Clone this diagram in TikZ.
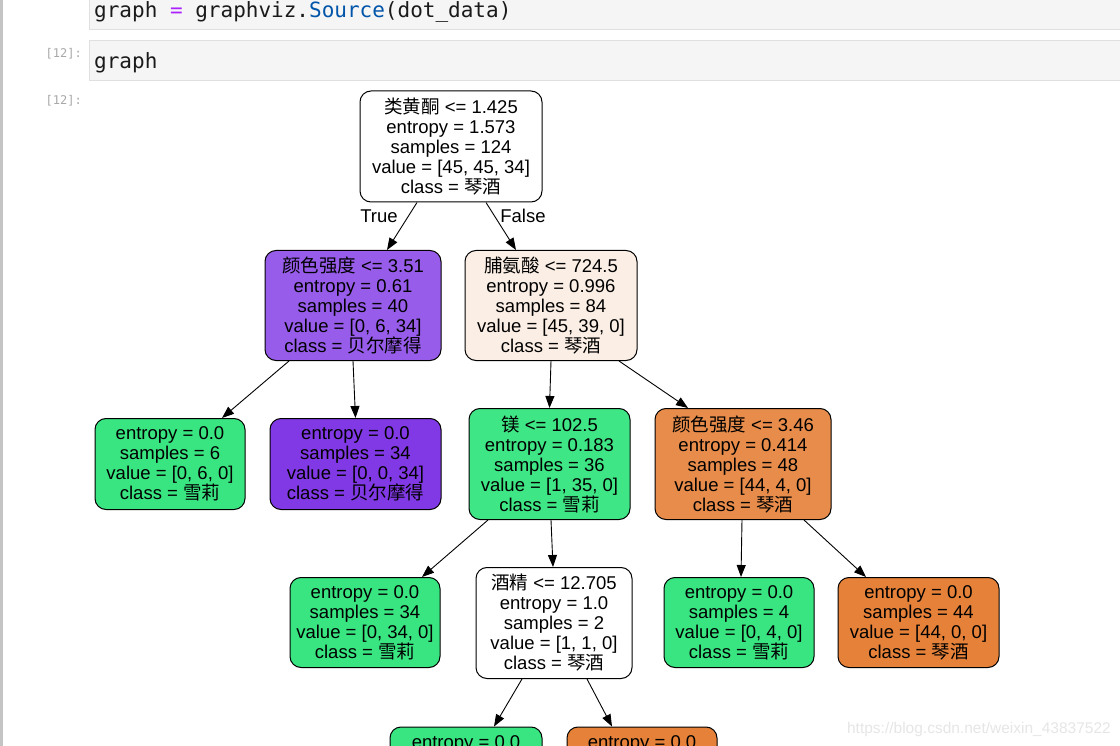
\documentclass[tikz,border=0pt]{standalone}
\usepackage{fontspec}
\setmainfont{Liberation Sans}
\newfontfamily\cjk{Noto Sans CJK SC}
\newfontfamily\codefont{DejaVu Sans Mono}
\usetikzlibrary{arrows.meta}
\definecolor{cellbg}{HTML}{F5F5F5}
\definecolor{cellborder}{HTML}{E0E0E0}
\definecolor{leftbar}{HTML}{C4C4C4}
\definecolor{promptgray}{HTML}{A8A8A8}
\definecolor{kwpurple}{HTML}{AA22FF}
\definecolor{kwblue}{HTML}{0055AA}
\definecolor{codetext}{HTML}{1A1A1A}
\definecolor{wmgray}{HTML}{E6E6E6}
\definecolor{cwhite}{HTML}{FFFFFF}
\definecolor{cpurpleA}{HTML}{975CEA}
\definecolor{cpurple}{HTML}{8139E5}
\definecolor{cpeach}{HTML}{FBEEE4}
\definecolor{cgreen}{HTML}{39E581}
\definecolor{cgreenA}{HTML}{3FE685}
\definecolor{corangeA}{HTML}{E78C4B}
\definecolor{corange}{HTML}{E58139}
\tikzset{
  tnode/.style={draw=black, line width=1pt, rounded corners=11pt, align=center,
    inner sep=0pt, font=\fontsize{18.5}{20}\selectfont},
  wh/.style 2 args={minimum width=#1pt, minimum height=#2pt},
  conn/.style={-{Triangle[length=12pt,width=9pt]}, line width=0.9pt},
  elabel/.style={inner sep=0pt, font=\fontsize{18.5}{20}\selectfont},
  codestyle/.style={inner sep=0pt, text=codetext, font=\codefont\fontsize{21}{22}\selectfont},
  promptstyle/.style={inner sep=0pt, text=promptgray, font=\codefont\fontsize{12}{12}\selectfont},
}
\begin{document}
\begin{tikzpicture}[x=1pt,y=-1pt]
\useasboundingbox (0,0) rectangle (1120,746);
\clip (0,0) rectangle (1120,746);
\fill[white] (0,0) rectangle (1120,746);
% notebook chrome
\fill[leftbar] (0,0) rectangle (3,746);
\draw[cellborder, fill=cellbg, line width=1pt] (89,-5) rectangle (1125,30);
\draw[cellborder, fill=cellbg, line width=1pt] (89,41) rectangle (1125,81);
\node[codestyle, anchor=base west] (code1) at (94,18) {graph \textcolor{kwpurple}{=} graphviz.\textcolor{kwblue}{Source}(dot\_data)};
\node[codestyle, anchor=base west] (code2) at (94,69) {graph};
\node[promptstyle, anchor=base east] (p1) at (82,58) {[12]:};
\node[promptstyle, anchor=base east] (p2) at (82,105) {[12]:};
% tree nodes
\node[tnode, fill=cwhite, wh={182}{111}] (root) at (451,146.5)
  {{\cjk 类黄酮} <= 1.425\\entropy = 1.573\\samples = 124\\value = [45, 45, 34]\\class = {\cjk 琴酒}};
\node[tnode, fill=cpurpleA, wh={176}{110}] (n1) at (353,305.5)
  {{\cjk 颜色强度} <= 3.51\\entropy = 0.61\\samples = 40\\value = [0, 6, 34]\\class = {\cjk 贝尔摩得}};
\node[tnode, fill=cpeach, wh={172}{110}] (n2) at (551,305.5)
  {{\cjk 脯氨酸} <= 724.5\\entropy = 0.996\\samples = 84\\value = [45, 39, 0]\\class = {\cjk 琴酒}};
\node[tnode, fill=cgreen, wh={150}{91}] (n3) at (170,464)
  {entropy = 0.0\\samples = 6\\value = [0, 6, 0]\\class = {\cjk 雪莉}};
\node[tnode, fill=cpurple, wh={171}{91}] (n4) at (355.5,464)
  {entropy = 0.0\\samples = 34\\value = [0, 0, 34]\\class = {\cjk 贝尔摩得}};
\node[tnode, fill=cgreenA, wh={161}{111}] (n5) at (549.5,464)
  {{\cjk 镁} <= 102.5\\entropy = 0.183\\samples = 36\\value = [1, 35, 0]\\class = {\cjk 雪莉}};
\node[tnode, fill=corangeA, wh={176}{111}] (n6) at (743,464)
  {{\cjk 颜色强度} <= 3.46\\entropy = 0.414\\samples = 48\\value = [44, 4, 0]\\class = {\cjk 琴酒}};
\node[tnode, fill=cgreen, wh={150}{90}] (n7) at (365,622.5)
  {entropy = 0.0\\samples = 34\\value = [0, 34, 0]\\class = {\cjk 雪莉}};
\node[tnode, fill=cwhite, wh={156}{111}] (n8) at (554,623)
  {{\cjk 酒精} <= 12.705\\entropy = 1.0\\samples = 2\\value = [1, 1, 0]\\class = {\cjk 琴酒}};
\node[tnode, fill=cgreen, wh={150}{90}] (n9) at (739,622.5)
  {entropy = 0.0\\samples = 4\\value = [0, 4, 0]\\class = {\cjk 雪莉}};
\node[tnode, fill=corange, wh={161}{90}] (n10) at (918.5,622.5)
  {entropy = 0.0\\samples = 44\\value = [44, 0, 0]\\class = {\cjk 琴酒}};
\node[tnode, fill=cgreen, wh={152}{90}] (n11) at (466,772)
  {entropy = 0.0\\~\\~\\~};
\node[tnode, fill=corange, wh={150}{90}] (n12) at (642,772)
  {entropy = 0.0\\~\\~\\~};
% edges
\draw[conn] ([xshift=-34pt]root.south) -- ([xshift=34pt]n1.north);
\draw[conn] ([xshift=35pt]root.south) -- ([xshift=-35pt]n2.north);
\draw[conn] ([xshift=-64pt]n1.south) -- ([xshift=52pt]n3.north);
\draw[conn] (n1.south) -- (n4.north);
\draw[conn] (n2.south) -- (n5.north);
\draw[conn] ([xshift=68pt]n2.south) -- ([xshift=-55pt]n6.north);
\draw[conn] ([xshift=-61.5pt]n5.south) -- ([xshift=57pt]n7.north);
\draw[conn] ([xshift=1.5pt]n5.south) -- ([xshift=-1pt]n8.north);
\draw[conn] ([xshift=-1pt]n6.south) -- ([xshift=2pt]n9.north);
\draw[conn] ([xshift=61pt]n6.south) -- ([xshift=-52.5pt]n10.north);
\draw[conn] ([xshift=-32pt]n8.south) -- ([xshift=28pt]n11.north);
\draw[conn] ([xshift=33pt]n8.south) -- ([xshift=-30pt]n12.north);
\node[elabel] (ltrue) at (379,216) {True};
\node[elabel] (lfalse) at (523,216) {False};
% watermark
\node[inner sep=0pt, anchor=base east, text=wmgray, font=\fontsize{15.5}{16}\selectfont] (wm) at (1111,733) {https://blog.csdn.net/weixin\_43837522};
\end{tikzpicture}
\end{document}
